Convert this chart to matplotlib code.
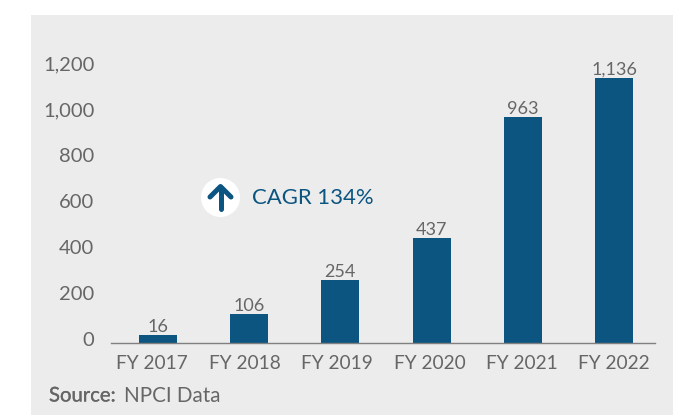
import matplotlib
matplotlib.use("Agg")
import matplotlib.pyplot as plt
import matplotlib.patheffects as pe
from matplotlib.patches import Rectangle, Circle
from matplotlib.lines import Line2D
from matplotlib.transforms import IdentityTransform

categories = ["FY 2017", "FY 2018", "FY 2019", "FY 2020", "FY 2021", "FY 2022"]
values = [16, 106, 254, 437, 963, 1136]
labels = ["16", "106", "254", "437", "963", "1,136"]
yticks = [0, 200, 400, 600, 800, 1000, 1200]
yticklabels = ["0", "200", "400", "600", "800", "1,000", "1,200"]

W, H = 678, 415
BLUE = '#0b5580'
GREY = '#666666'
plt.rcParams['font.family'] = ['Lato', 'DejaVu Sans']
fig = plt.figure(figsize=(W/100, H/100), dpi=100, facecolor='white')
fig.add_artist(Rectangle((31/W, 0), (673-31)/W, (415-15)/H, transform=fig.transFigure,
                         fc='#ececec', ec='none', zorder=-5))

# the value axis starts a little below zero: baseline at pixel 343, 0 at 338.5, 1200 at 63
y0 = -19.6
ax = fig.add_axes([111/W, 1-343/H, (655-111)/W, (343-63)/H], facecolor='none')
ax.set_xlim(-0.512, 5.446)
ax.set_ylim(y0, 1200)
xs = list(range(6))
ax.bar(xs, [v - y0 for v in values], bottom=y0, width=0.416, color=BLUE, zorder=2)
for x, v, l in zip(xs, values, labels):
    ax.text(x, v, l, ha='center', va='bottom', fontsize=13, color=GREY)
# category labels are spaced slightly wider than the bars in the reference
ax.set_xticks([x - 0.0125 * (5 - x) for x in xs], categories)
ax.set_yticks(yticks, yticklabels)
ax.tick_params(axis='y', length=0, labelsize=14.5, labelcolor=GREY, pad=12)
ax.tick_params(axis='x', length=0, labelsize=13.8, labelcolor=GREY, pad=8.5)
for s in ['top', 'right', 'left']:
    ax.spines[s].set_visible(False)
ax.spines['bottom'].set_color('#808080')
ax.spines['bottom'].set_linewidth(1)
ax.spines['bottom'].set_zorder(3)

# CAGR badge
cx, cy, r = 220.5, 197.5, 19.5
tr = IdentityTransform()
fig.add_artist(Circle((cx, H-cy), r, transform=tr, fc='white', ec='none', zorder=3))
for xd, yd in [([cx, cx], [H-cy-11, H-cy+10]),
               ([cx-10.5, cx, cx+10.5], [H-cy+0.5, H-cy+11, H-cy+0.5])]:
    fig.add_artist(Line2D(xd, yd, transform=tr, color=BLUE, lw=3.6, solid_capstyle='round',
                          solid_joinstyle='round', zorder=4))
fig.text(252/W, 1-198/H, "CAGR 134%", fontsize=15.9, color=BLUE, va='center', ha='left', zorder=4)

fig.text(49/W, 1-396/H, "Source:", fontsize=14.6, color=GREY, va='center', ha='left', zorder=4,
         path_effects=[pe.withStroke(linewidth=0.2, foreground=GREY)])
fig.text(124.5/W, 1-396/H, "NPCI Data", fontsize=14.9, color=GREY, va='center', ha='left', zorder=4)

fig.savefig("out.png", dpi=100)
